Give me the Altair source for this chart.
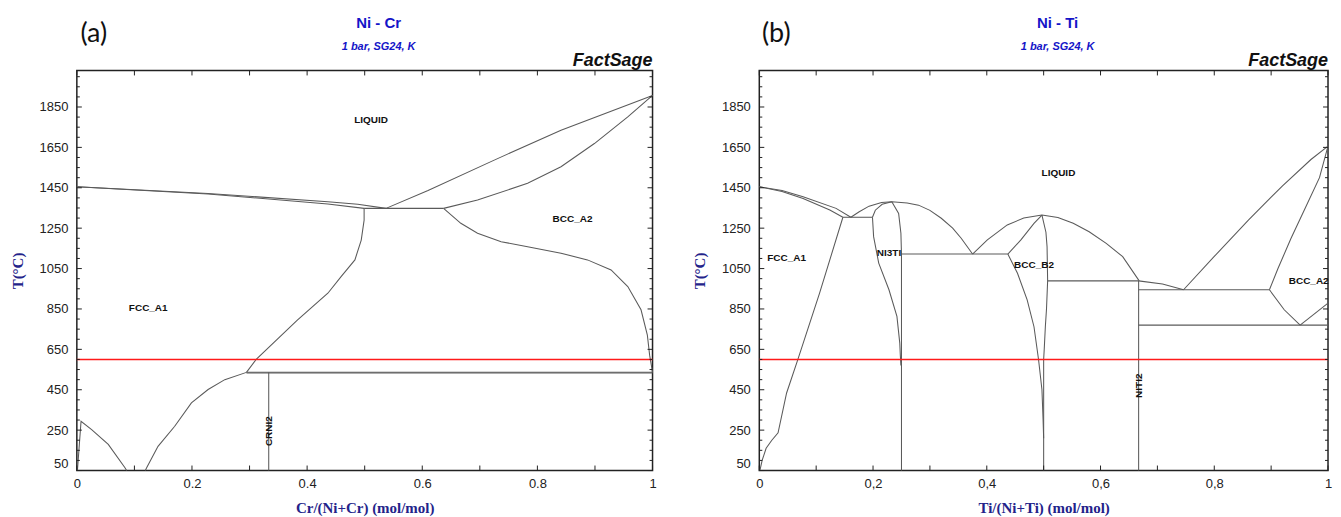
import altair as alt
import pandas as pd

# ---------------- axis ticks / labels ----------------
x_label_values = [0, 0.2, 0.4, 0.6, 0.8, 1]
x_tick_values = [0, 0.1, 0.2, 0.3, 0.4, 0.5, 0.6, 0.7, 0.8, 0.9, 1.0]
y_label_values = [50, 250, 450, 650, 850, 1050, 1250, 1450, 1650, 1850]
y_minor_values = [100, 150, 200, 300, 350, 400, 500, 550, 600, 700, 750, 800,
                  900, 950, 1000, 1100, 1150, 1200, 1300, 1350, 1400, 1500, 1550,
                  1600, 1700, 1750, 1800, 1900, 1950, 2000]
y_domain = [50, 2031]
red_line_T = [600]

# ---------------- Ni - Cr phase boundaries (x = Cr/(Ni+Cr), T in degC) ----------------
crni_liquidus_ni = [(0, 1455), (0.228, 1422), (0.436, 1381), (0.488, 1368), (0.537, 1348)]
crni_solidus_fcc = [(0, 1455), (0.228, 1419), (0.436, 1370), (0.499, 1348)]
crni_eutectic = [(0.499, 1348), (0.637, 1348)]
crni_liquidus_cr = [(0.537, 1348), (0.61, 1437), (0.725, 1587), (0.841, 1735), (1.0, 1907)]
crni_solidus_bcc = [(0.637, 1348), (0.696, 1389), (0.783, 1472), (0.841, 1554),
                    (0.899, 1669), (0.957, 1801), (1.0, 1907)]
crni_solvus_bcc = [(0.637, 1348), (0.667, 1274), (0.696, 1225), (0.737, 1183), (0.783, 1158),
                   (0.841, 1126), (0.887, 1093), (0.928, 1043), (0.957, 961), (0.980, 846),
                   (0.991, 720), (0.995, 620), (0.998, 570), (1.0, 536)]
crni_solvus_fcc = [(0.499, 1348), (0.499, 1290), (0.494, 1191), (0.483, 1093), (0.459, 1010),
                   (0.436, 928), (0.383, 795), (0.312, 602), (0.2946, 536)]
crni_order_line_a = [(0.2946, 537), (1.0, 537)]
crni_order_line_b = [(0.2946, 533), (1.0, 533)]
crni_crni2 = [(0.3333, 536), (0.3333, 50)]
crni_crni2_solvus = [(0.2946, 536), (0.257, 500), (0.228, 451), (0.199, 385), (0.170, 269),
                     (0.141, 170), (0.121, 62), (0.119, 50)]
crni_low_left = [(0.001, 50), (0.0073, 294), (0.0257, 253), (0.0546, 179), (0.0836, 64), (0.0865, 50)]

crni_curves = [crni_liquidus_ni, crni_solidus_fcc, crni_eutectic, crni_liquidus_cr,
               crni_solidus_bcc, crni_solvus_bcc, crni_solvus_fcc, crni_order_line_a,
               crni_order_line_b, crni_crni2, crni_crni2_solvus, crni_low_left]

crni_labels = ["LIQUID", "BCC_A2", "FCC_A1"]
crni_label_x = [0.511, 0.861, 0.124]
crni_label_T = [1788, 1294, 857]
crni_rot_labels = ["CRNI2"]
crni_rot_x = [0.333]
crni_rot_T = [245]

# ---------------- Ni - Ti phase boundaries (x = Ti/(Ni+Ti), T in degC) ----------------
niti_liquidus_fcc = [(0, 1455), (0.04, 1436), (0.077, 1405), (0.135, 1348), (0.161, 1304)]
niti_solidus_fcc = [(0, 1455), (0.04, 1432), (0.077, 1397), (0.124, 1340), (0.147, 1304)]
niti_eutectic_1 = [(0.147, 1304), (0.199, 1304)]
niti_solvus_fcc = [(0.147, 1304), (0.106, 928), (0.068, 602), (0.048, 434), (0.033, 237),
                   (0.022, 200), (0.012, 160), (0.005, 100), (0.001, 50)]
niti_liquidus_ni3ti = [(0.161, 1304), (0.175, 1330), (0.193, 1359), (0.215, 1377), (0.233, 1381),
                       (0.26, 1375), (0.280, 1364), (0.300, 1338), (0.320, 1299), (0.340, 1250),
                       (0.355, 1200), (0.375, 1122)]
niti_solidus_ni3ti = [(0.199, 1304), (0.204, 1339), (0.216, 1368), (0.233, 1381)]
niti_solvus_ni3ti_l = [(0.199, 1304), (0.201, 1208), (0.210, 1077), (0.228, 945), (0.242, 813),
                       (0.247, 681), (0.248, 620), (0.249, 570)]
niti_solvus_ni3ti_r = [(0.233, 1381), (0.245, 1323), (0.249, 1225), (0.25, 1122)]
niti_ni3ti_line = [(0.25, 1122), (0.25, 50)]
niti_eutectic_2 = [(0.25, 1122), (0.437, 1122)]
niti_liquidus_b2 = [(0.375, 1122), (0.401, 1192), (0.436, 1266), (0.465, 1300), (0.497, 1315),
                    (0.525, 1303), (0.552, 1274), (0.58, 1232), (0.610, 1175), (0.639, 1109),
                    (0.668, 989)]
niti_solidus_b2 = [(0.437, 1122), (0.46, 1192), (0.483, 1274), (0.497, 1315)]
niti_solvus_b2_l = [(0.437, 1122), (0.454, 1027), (0.471, 895), (0.483, 762), (0.491, 600),
                    (0.497, 450), (0.499, 300), (0.5, 210)]
niti_solvus_b2_r = [(0.497, 1315), (0.504, 1230), (0.506, 1158), (0.507, 989), (0.505, 850),
                    (0.503, 763), (0.501, 650), (0.5, 600), (0.5, 50)]
niti_peritectic = [(0.507, 989), (0.667, 989)]
niti_niti2_line = [(0.667, 989), (0.667, 50)]
niti_liquidus_niti2 = [(0.667, 989), (0.709, 974), (0.746, 945)]
niti_eutectic_3 = [(0.667, 945), (0.897, 945)]
niti_liquidus_ti = [(0.746, 945), (0.80, 1110), (0.86, 1290), (0.92, 1460), (0.97, 1590), (1.0, 1656)]
niti_solidus_bcc = [(0.897, 945), (0.912, 1050), (0.935, 1200), (0.96, 1350), (0.985, 1500), (1.0, 1656)]
niti_solvus_bcc = [(0.897, 945), (0.923, 846), (0.951, 770)]
niti_eutectoid = [(0.667, 770), (1.0, 770)]
niti_transus = [(0.951, 770), (1.0, 879)]

niti_curves = [niti_liquidus_fcc, niti_solidus_fcc, niti_eutectic_1, niti_solvus_fcc,
               niti_liquidus_ni3ti, niti_solidus_ni3ti, niti_solvus_ni3ti_l, niti_solvus_ni3ti_r,
               niti_ni3ti_line, niti_eutectic_2, niti_liquidus_b2, niti_solidus_b2,
               niti_solvus_b2_l, niti_solvus_b2_r, niti_peritectic, niti_niti2_line,
               niti_liquidus_niti2, niti_eutectic_3, niti_liquidus_ti, niti_solidus_bcc,
               niti_solvus_bcc, niti_eutectoid, niti_transus]

niti_labels = ["LIQUID", "FCC_A1", "NI3TI", "BCC_B2", "BCC_A2"]
niti_label_x = [0.526, 0.048, 0.228, 0.483, 0.966]
niti_label_T = [1521, 1101, 1129, 1066, 990]
niti_rot_labels = ["NITI2"]
niti_rot_x = [0.667]
niti_rot_T = [470]

# ---------------- layout / style ----------------
W_LEFT, W_RIGHT, H = 577, 570, 401
LINE = "#5a5a5a"
FRAME = "#222222"
TITLE_BLUE = "#1414c8"
AXIS_BLUE = "#23238a"
SANS = "Liberation Sans"
SERIF = "Liberation Serif"


def curves_frame(curves):
    rows = []
    for k, pts in enumerate(curves):
        for i, (x, t) in enumerate(pts):
            rows.append({"seg": k, "i": i, "x": x, "T": t})
    return pd.DataFrame(rows)


def panel(W, curves, labels, lx, lT, rlabels, rx, rT, title, tag, xtitle, comma):
    xs = alt.Scale(domain=[0, 1], nice=False, zero=False)
    ys = alt.Scale(domain=y_domain, nice=False, zero=False)
    label_expr = "replace(datum.label, '.', ',')" if comma else "datum.label"
    xaxis = alt.Axis(
        values=x_label_values, format="~g", labelExpr=label_expr,
        ticks=False, tickSize=0, domain=False, grid=False, labelFlush=False,
        labelFont=SANS, labelFontSize=13, labelColor="#222", labelPadding=7,
        title=xtitle, titleFont=SERIF, titleFontSize=15, titleFontWeight="bold",
        titleColor=AXIS_BLUE, titlePadding=10)
    yaxis = alt.Axis(
        values=y_label_values, format="d",
        ticks=False, tickSize=0, domain=False, grid=False, labelFlush=True,
        labelFont=SANS, labelFontSize=13, labelColor="#222", labelPadding=9,
        title="T(°C)", titleFont=SERIF, titleFontSize=15, titleFontWeight="bold",
        titleColor=AXIS_BLUE, titlePadding=14)
    X = lambda: alt.X("x:Q", scale=xs, axis=xaxis)
    Y = lambda: alt.Y("T:Q", scale=ys, axis=yaxis)

    lines = alt.Chart(curves_frame(curves)).mark_line(
        color=LINE, strokeWidth=1.05
    ).encode(x=X(), y=Y(), detail="seg:N", order="i:Q")

    red = alt.Chart(pd.DataFrame({"T": red_line_T})).mark_rule(
        color="#ff1a1a", strokeWidth=1.6
    ).encode(y=Y())

    xt = pd.DataFrame({"x": x_tick_values})
    ymaj = pd.DataFrame({"T": y_label_values})
    ymin = pd.DataFrame({"T": y_minor_values})
    tick_layers = [
        alt.Chart(xt).mark_rule(color=FRAME, strokeWidth=1).encode(
            x=X(), y=alt.value(H), y2=alt.value(H - 5)),
        alt.Chart(xt).mark_rule(color=FRAME, strokeWidth=1).encode(
            x=X(), y=alt.value(0), y2=alt.value(5)),
        alt.Chart(ymaj).mark_rule(color=FRAME, strokeWidth=1).encode(
            y=Y(), x=alt.value(0), x2=alt.value(5)),
        alt.Chart(ymaj).mark_rule(color=FRAME, strokeWidth=1).encode(
            y=Y(), x=alt.value(W), x2=alt.value(W - 5)),
        alt.Chart(ymin).mark_rule(color=FRAME, strokeWidth=1).encode(
            y=Y(), x=alt.value(0), x2=alt.value(3)),
        alt.Chart(ymin).mark_rule(color=FRAME, strokeWidth=1).encode(
            y=Y(), x=alt.value(W), x2=alt.value(W - 3)),
    ]

    phase = alt.Chart(pd.DataFrame({"x": lx, "T": lT, "t": labels})).mark_text(
        font=SANS, fontSize=10, fontWeight="bold", color="#111"
    ).encode(x=X(), y=Y(), text="t:N")

    rot = alt.Chart(pd.DataFrame({"x": rx, "T": rT, "t": rlabels})).mark_text(
        font=SANS, fontSize=10, fontWeight="bold", color="#111", angle=270
    ).encode(x=X(), y=Y(), text="t:N")

    t_main = alt.Chart(pd.DataFrame({"t": [title]})).mark_text(
        font=SANS, fontSize=15, fontWeight="bold", color=TITLE_BLUE
    ).encode(text="t:N", x=alt.value(W / 2 + 14), y=alt.value(-48))
    t_sub = alt.Chart(pd.DataFrame({"t": ["1 bar, SG24, K"]})).mark_text(
        font=SANS, fontSize=11, fontWeight="bold", fontStyle="italic", color=TITLE_BLUE
    ).encode(text="t:N", x=alt.value(W / 2 + 14), y=alt.value(-23))
    t_fs = alt.Chart(pd.DataFrame({"t": ["FactSage"]})).mark_text(
        font=SANS, fontSize=18, fontWeight="bold", fontStyle="italic", color="#111",
        align="right", baseline="alphabetic"
    ).encode(text="t:N", x=alt.value(W), y=alt.value(-4))
    t_tag = alt.Chart(pd.DataFrame({"t": [tag]})).mark_text(
        font="Lato", fontSize=27, color="#111"
    ).encode(text="t:N", x=alt.value(17), y=alt.value(-37))

    return alt.layer(lines, red, *tick_layers, phase, rot, t_main, t_sub, t_fs, t_tag).properties(
        width=W, height=H)


left = panel(W_LEFT, crni_curves, crni_labels, crni_label_x, crni_label_T,
             crni_rot_labels, crni_rot_x, crni_rot_T,
             "Ni - Cr", "(a)", "Cr/(Ni+Cr) (mol/mol)", False)
right = panel(W_RIGHT, niti_curves, niti_labels, niti_label_x, niti_label_T,
              niti_rot_labels, niti_rot_x, niti_rot_T,
              "Ni - Ti", "(b)", "Ti/(Ni+Ti) (mol/mol)", True)

chart = alt.hconcat(left, right, spacing=34).properties(
    padding={"left": 1, "top": 6, "right": 0, "bottom": 0}
).configure_view(stroke=FRAME, strokeWidth=1.5)

chart.save("out.html", embed_options={"renderer": "svg", "actions": False})
